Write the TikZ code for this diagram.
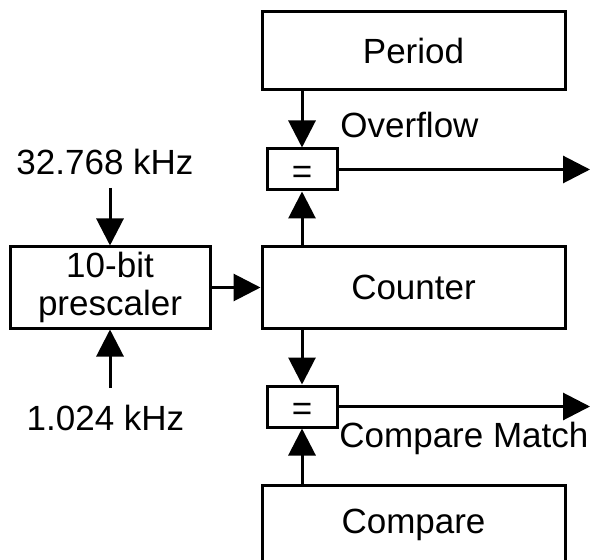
\documentclass[tikz,border=0pt]{standalone}
\usepackage{fontspec}
\setmainfont{Liberation Sans}
\usepackage{tikz}
\usetikzlibrary{arrows.meta}
\tikzstyle{line} = [draw, -{Triangle[length=13.5pt,width=13.5pt]}, line width=1.5pt]
\tikzstyle{block} = [draw, line width=1.5pt, inner sep=0pt]
\tikzstyle{eqbox} = [block, minimum width=35pt, minimum height=20.5pt, text height=14pt, text depth=0pt]
\tikzstyle{lbl} = [inner sep=0pt]

\begin{document}
\begin{tikzpicture}[x=0.5pt,y=-0.5pt]
	\useasboundingbox (0,0) rectangle (592,560);
	\fontsize{17.5}{19}\selectfont
	% -------------- Blocks --------------
	\node[block, minimum width=151.5pt, minimum height=39pt]   (period)  at (413.5,51)    {Period};
	\node[block, minimum width=151.5pt, minimum height=40.5pt] (counter) at (413.5,287.5) {Counter};
	\node[block, minimum width=151.5pt, minimum height=40pt]   (compare) at (413.5,525)   {Compare};
	\node[block, align=center, minimum width=100pt, minimum height=40.5pt] (presc) at (110,287.5) {10-bit\\prescaler};
	\node[eqbox] (eqovf) at (302,169.5) {=};
	\node[eqbox] (eqcmp) at (302,406.5) {=};
	% -------------- Labels --------------
	\node[lbl, anchor=base west] (ovflbl) at (340,138)   {Overflow};
	\node[lbl, anchor=base west] (cmplbl) at (339,447)   {Compare Match};
	\node[lbl, anchor=base]      (clkhi)  at (105,175)   {32.768 kHz};
	\node[lbl, anchor=base]      (clklo)  at (105.5,430) {1.024 kHz};
	% -------------- Free ends --------------
	\coordinate (clkhiend) at (110,188);
	\coordinate (clkloend) at (110,388);
	\coordinate (ovfend)   at (590,169.5);
	\coordinate (cmpend)   at (590,406.5);
	% -------------- Connections --------------
	\draw[line] (clkhiend) -- (presc.north);
	\draw[line] (clkloend) -- (presc.south);
	\draw[line] (presc.east) -- (counter.west);
	\draw[line] (period.south -| eqovf) -- (eqovf.north);
	\draw[line] (counter.north -| eqovf) -- (eqovf.south);
	\draw[line] (counter.south -| eqcmp) -- (eqcmp.north);
	\draw[line] (compare.north -| eqcmp) -- (eqcmp.south);
	\draw[line] (eqovf.east) -- (ovfend);
	\draw[line] (eqcmp.east) -- (cmpend);
\end{tikzpicture}
\end{document}
